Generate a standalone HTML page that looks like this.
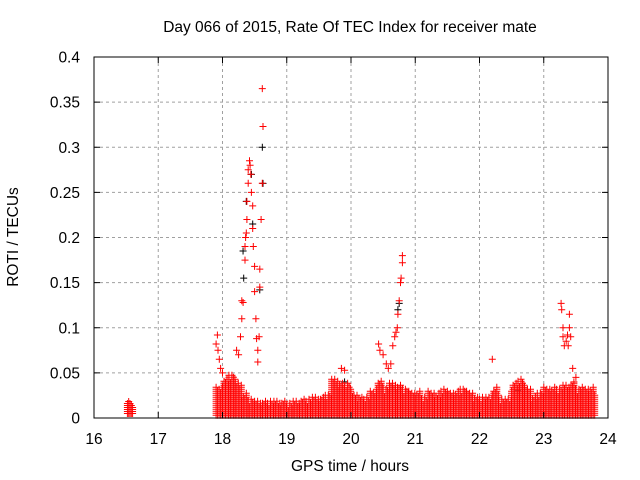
<!DOCTYPE html>
<html><head><meta charset="utf-8"><style>
html,body{margin:0;padding:0;background:#fff;}
svg{display:block;font-family:"Liberation Sans",sans-serif;}
</style></head><body>
<svg id="chart" width="640" height="480" xmlns="http://www.w3.org/2000/svg">
<rect width="640" height="480" fill="#fff"/>
<text x="350" y="32" font-size="15.5" text-anchor="middle">Day 066 of 2015, Rate Of TEC Index for receiver mate</text>
<text x="350" y="471" font-size="15.5" text-anchor="middle">GPS time / hours</text>
<text x="18" y="237" font-size="15.5" text-anchor="middle" transform="rotate(-90 18 237)">ROTI / TECUs</text>
<g id="grid"></g>
<g id="marks"></g>
<g id="axes"></g>
</svg>
<script>
const xTicks = [16,17,18,19,20,21,22,23,24];
const yTicks = [0,0.05,0.1,0.15,0.2,0.25,0.3,0.35,0.4];
const yTickLabels = ["0","0.05","0.1","0.15","0.2","0.25","0.3","0.35","0.4"];
// dense band: bins every 0.1 h starting 17.9, upper envelope
const bandStart = 17.9;
const bandStep = 0.1;
const bandHi = [0.035,0.045,0.05,0.04,0.028,0.022,0.02,0.02,0.02,0.02,0.02,
 0.018,0.02,0.022,0.022,0.025,0.025,0.028,0.045,0.04,0.04,
 0.028,0.025,0.025,0.03,0.042,0.035,0.04,0.038,0.035,0.03,
 0.03,0.025,0.03,0.028,0.033,0.03,0.03,0.035,0.03,0.025,
 0.025,0.025,0.035,0.022,0.022,0.04,0.045,0.035,0.025,0.03,
 0.035,0.035,0.035,0.038,0.04,0.035,0.035,0.035];
const bandLo = 0.003;
const clusterT = [16.52,16.54,16.56,16.58,16.6];
const clusterHi = [0.018,0.02,0.017,0.015,0.012];
const redT = [17.92,17.9,17.93,17.95,17.97,18.0,18.22,18.25,18.28,18.3,18.3,18.32,18.35,18.35,18.36,18.37,18.38,18.38,18.4,18.4,18.42,18.43,18.44,18.45,18.47,18.47,18.48,18.5,18.5,18.52,18.53,18.55,18.55,18.57,18.58,18.6,18.62,18.63,18.62,18.58,
 19.85,19.9,20.43,20.45,20.5,20.55,20.58,20.62,20.65,20.68,20.7,20.72,20.73,20.75,20.77,20.78,20.8,20.8,22.2,
 23.27,23.28,23.3,23.3,23.32,23.35,23.37,23.4,23.4,23.38,23.42,23.45,23.47,23.5];
const redV = [0.092,0.082,0.075,0.065,0.055,0.05,0.075,0.07,0.09,0.11,0.13,0.128,0.175,0.19,0.2,0.205,0.22,0.24,0.26,0.275,0.285,0.28,0.27,0.25,0.235,0.21,0.19,0.168,0.14,0.11,0.088,0.075,0.062,0.09,0.165,0.22,0.26,0.323,0.365,0.145,
 0.055,0.053,0.082,0.075,0.07,0.06,0.055,0.06,0.08,0.09,0.095,0.1,0.115,0.13,0.15,0.155,0.172,0.18,0.065,
 0.127,0.12,0.1,0.09,0.08,0.085,0.092,0.1,0.115,0.08,0.09,0.055,0.04,0.045];
const blackT = [18.37,18.45,18.47,18.62,18.63,18.58,18.33,18.32,20.73,20.75,19.9,22.6];
const blackV = [0.24,0.27,0.215,0.3,0.26,0.142,0.155,0.185,0.12,0.127,0.04,0.03];

const L=94,R=608,T=57,B=418;
const xs = t => L + (t-16)/(24-16)*(R-L);
const ys = v => B - v/0.4*(B-T);
const NS="http://www.w3.org/2000/svg";
function mk(tag,attrs,parent){const e=document.createElementNS(NS,tag);for(const k in attrs)e.setAttribute(k,attrs[k]);parent.appendChild(e);return e;}
const grid=document.getElementById('grid'),marks=document.getElementById('marks'),axes=document.getElementById('axes');
xTicks.forEach((t,i)=>{
  const x=xs(t);
  if(i>0&&i<xTicks.length-1){const g=mk('line',{x1:x,x2:x,y1:T,y2:B,stroke:'#a0a0a0','stroke-dasharray':'3,3'},grid);
  
  }
  mk('line',{x1:x,x2:x,y1:B,y2:B-6,stroke:'#000'},axes);
  mk('line',{x1:x,x2:x,y1:T,y2:T+6,stroke:'#000'},axes);
  const lb=mk('text',{x:x,y:B+26,'font-size':15.5,'text-anchor':'middle',fill:'#000'},axes);
  lb.textContent=String(t);
  
  
});
yTicks.forEach((v,i)=>{
  const y=ys(v);
  if(i>0&&i<yTicks.length-1){const g=mk('line',{x1:L,x2:R,y1:y,y2:y,stroke:'#a0a0a0','stroke-dasharray':'3,3'},grid);
  
  }
  mk('line',{x1:L,x2:L+6,y1:y,y2:y,stroke:'#000'},axes);
  mk('line',{x1:R,x2:R-6,y1:y,y2:y,stroke:'#000'},axes);
  const lb=mk('text',{x:80,y:y+5.5,'font-size':15.5,'text-anchor':'end',fill:'#000'},axes);
  lb.textContent=yTickLabels[i];
  
  
});
const frame=mk('rect',{x:L,y:T,width:R-L,height:B-T,fill:'none',stroke:'#000'},axes);


let d='';
function plus(x,y){d+=`M${(x-3.5).toFixed(1)} ${y.toFixed(1)}h7M${x.toFixed(1)} ${(y-3.5).toFixed(1)}v7`;}
const jit=[0,4,1,6,2,8,3,5,0,7,2,9,1,4,6];
let k=0;
bandHi.forEach((h,i)=>{
  const t0=bandStart+i*bandStep, x0=xs(t0), x1=xs(t0+bandStep);
  for(let x=x0;x<x1;x+=1.5){
    const top=ys(h)+jit[k%jit.length], bot=ys(bandLo);
    for(let y=bot;y>=top;y-=2) plus(x,y);
    k++;
  }
});
clusterT.forEach((t,i)=>{const x=xs(t);for(let y=ys(0.005);y>=ys(clusterHi[i]);y-=2)plus(x,y);});
let db='';
blackT.forEach((t,i)=>{const x=xs(t),y=ys(blackV[i]);db+=`M${x-3.5} ${y}h7M${x} ${y-3.5}v7`;});
const pb=mk('path',{d:db,stroke:'#000','stroke-width':1,fill:'none'},marks);


redT.forEach((t,i)=>plus(xs(t),ys(redV[i])));
const pr=mk('path',{d:d,stroke:'#ff0000','stroke-width':1,fill:'none'},marks);


</script>
</body></html>
